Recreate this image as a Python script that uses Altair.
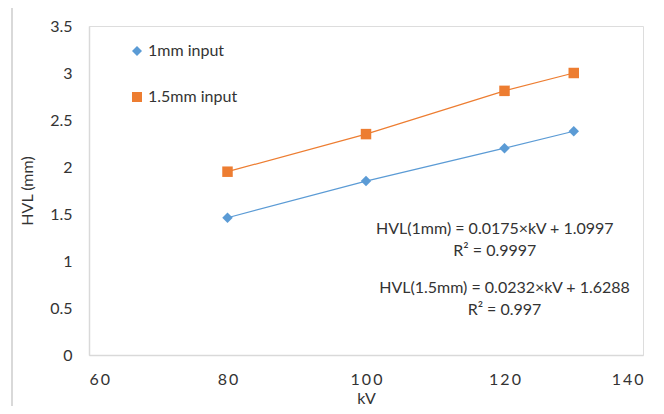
import altair as alt
import pandas as pd

kv = [80, 100, 120, 130]
hvl_1mm = [1.46, 1.85, 2.20, 2.38]
hvl_15mm = [1.95, 2.35, 2.81, 3.00]
series_names = ["1mm input", "1.5mm input"]
colors = ["#5B9BD5", "#ED7D31"]
shapes = ["diamond", "square"]

eq_text = ["HVL(1mm) = 0.0175×kV + 1.0997", "R² = 0.9997",
           "HVL(1.5mm) = 0.0232×kV + 1.6288", "R² = 0.997"]
eq_x = [118.6, 118.6, 120.0, 120.0]
eq_y = [1.34, 1.11, 0.71, 0.48]

rows = []
for k, a, b in zip(kv, hvl_1mm, hvl_15mm):
    rows.append({"kV": k, "HVL": a, "series": series_names[0]})
    rows.append({"kV": k, "HVL": b, "series": series_names[1]})
df = pd.DataFrame(rows)
ann = pd.DataFrame({"t": eq_text, "x": eq_x, "y": eq_y})

FONT = "Lato"
TXT = "#333333"
xs = alt.Scale(domain=[60, 140], nice=False)
ys = alt.Scale(domain=[0, 3.5], nice=False)
cs = alt.Scale(domain=series_names, range=colors)
ss = alt.Scale(domain=series_names, range=shapes)

xax = alt.Axis(values=[60, 80, 100, 120, 140], grid=False, ticks=False, domainColor="#d9d9d9",
               domainWidth=1.5, labelPadding=16, labelFontSize=16, labelColor=TXT,
               labelExpr="join(split(datum.label, ''), '\u2009')", title="kV",
               titleFontSize=16, titleFontWeight="normal", titleColor=TXT, titlePadding=3)
yax = alt.Axis(values=[0, 0.5, 1, 1.5, 2, 2.5, 3, 3.5], grid=False, ticks=False, domainColor="#d9d9d9",
               domainWidth=1.5, labelPadding=17, labelFontSize=16, labelColor=TXT,
               labelExpr="datum.value + ''",
               title="HVL (mm)", titleFontSize=16, titleFontWeight="normal",
               titleColor=TXT, titlePadding=14)

leg = alt.Legend(orient="none", legendX=40, legendY=17, title=None, labelFontSize=16,
                 labelColor=TXT, symbolSize=100, rowPadding=30, labelOffset=3,
                 symbolOpacity=1, symbolStrokeWidth=0)

base = alt.Chart(df)
lines = base.mark_line(strokeWidth=1.2).encode(
    x=alt.X("kV:Q", scale=xs, axis=xax),
    y=alt.Y("HVL:Q", scale=ys, axis=yax),
    color=alt.Color("series:N", scale=cs, legend=leg),
    detail="series:N",
)
pts = base.mark_point(filled=True, opacity=1, size=110).encode(
    x=alt.X("kV:Q", scale=xs),
    y=alt.Y("HVL:Q", scale=ys),
    color=alt.Color("series:N", scale=cs, legend=leg),
    shape=alt.Shape("series:N", scale=ss, legend=leg),
)
text = alt.Chart(ann).mark_text(fontSize=16, color=TXT, font=FONT, baseline="middle").encode(
    x=alt.X("x:Q", scale=xs), y=alt.Y("y:Q", scale=ys), text="t:N")
frame = alt.Chart(ann).mark_rect(fill=None, stroke="#d9d9d9", strokeWidth=1.5).encode(
    x=alt.value(-77), x2=alt.value(700), y=alt.value(-19), y2=alt.value(500))

chart = alt.layer(frame, lines, pts, text).properties(
    width=554, height=329,
    autosize=alt.AutoSizeParams(type="none"),
    padding={"left": 81, "top": 18, "right": 13, "bottom": 51},
).configure_view(stroke=None).configure(font=FONT)

chart.save("out.html", embed_options={"renderer": "svg", "actions": False})
